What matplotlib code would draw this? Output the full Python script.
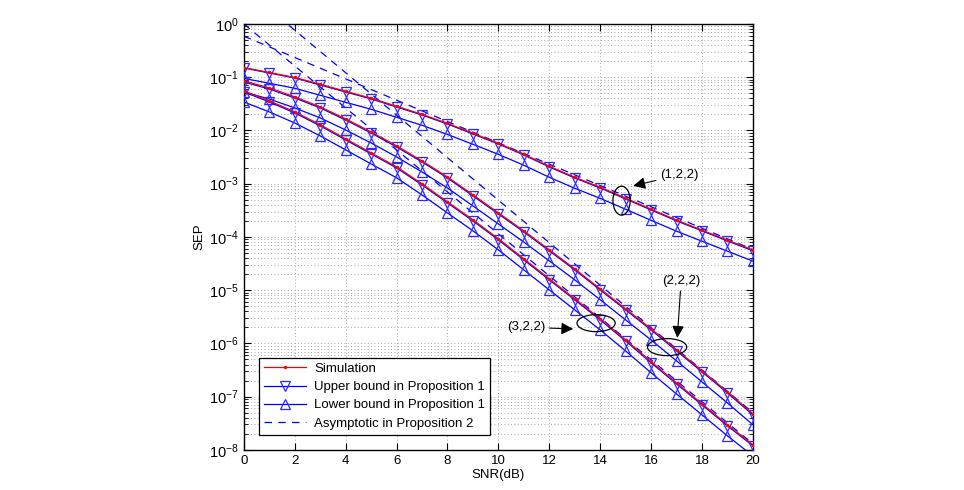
import numpy as np
import matplotlib
matplotlib.use("Agg")
import matplotlib.pyplot as plt
from matplotlib.patches import Ellipse
from matplotlib.ticker import FixedLocator, NullFormatter, LogFormatterSciNotation

plt.rcParams['font.family'] = ['Liberation Sans', 'DejaVu Sans']
plt.rcParams['mathtext.fontset'] = 'custom'
plt.rcParams['mathtext.rm'] = 'Liberation Sans'
plt.rcParams['mathtext.it'] = 'Liberation Sans:italic'

# SNR axis (dB)
snr = np.arange(0, 21)

# (1,2,2)
upper_122 = [0.149, 0.120, 0.0968, 0.0715, 0.0528, 0.0391, 0.0276, 0.0195, 0.0132, 8.6e-3, 5.57e-3,
             3.47e-3, 2.06e-3, 1.28e-3, 8.3e-4, 5.17e-4, 3.21e-4, 2.0e-4, 1.30e-4, 8.4e-5, 5.5e-5]
lower_122 = [0.095, 0.077, 0.062, 0.0458, 0.0338, 0.0250, 0.0177, 0.0125, 8.4e-3, 5.5e-3, 3.56e-3,
             2.22e-3, 1.32e-3, 8.2e-4, 5.3e-4, 3.31e-4, 2.05e-4, 1.28e-4, 8.3e-5, 5.4e-5, 3.5e-5]
sim_122 = [0.152, 0.123, 0.099, 0.074, 0.0545, 0.0404, 0.0285, 0.0201, 0.0136, 8.9e-3, 5.75e-3,
           3.58e-3, 2.13e-3, 1.32e-3, 8.6e-4, 5.35e-4, 3.32e-4, 2.07e-4, 1.34e-4, 8.7e-5, 5.7e-5]

# (2,2,2)
upper_222 = [0.0814, 0.0601, 0.0408, 0.0265, 0.0157, 8.97e-3, 4.90e-3, 2.56e-3, 1.28e-3, 5.89e-4, 2.70e-4,
             1.24e-4, 5.46e-5, 2.40e-5, 1.01e-5, 4.26e-6, 1.79e-6, 7.23e-7, 2.92e-7, 1.17e-7, 4.54e-8]
lower_222 = [0.0528, 0.0390, 0.0265, 0.0172, 0.0102, 5.82e-3, 3.18e-3, 1.66e-3, 8.3e-4, 3.82e-4, 1.75e-4,
             8.0e-5, 3.54e-5, 1.56e-5, 6.6e-6, 2.76e-6, 1.16e-6, 4.69e-7, 1.89e-7, 7.6e-8, 2.95e-8]
sim_222 = [0.0855, 0.0631, 0.0428, 0.0278, 0.0165, 9.4e-3, 5.15e-3, 2.69e-3, 1.34e-3, 6.2e-4, 2.84e-4,
           1.30e-4, 5.73e-5, 2.52e-5, 1.06e-5, 4.47e-6, 1.88e-6, 7.6e-7, 3.07e-7, 1.23e-7, 4.77e-8]

# (3,2,2)
upper_322 = [0.0528, 0.0343, 0.0213, 0.0122, 6.64e-3, 3.62e-3, 1.98e-3, 9.48e-4, 4.35e-4, 2.0e-4, 8.8e-5,
             3.70e-5, 1.56e-5, 6.56e-6, 2.76e-6, 1.11e-6, 4.31e-7, 1.73e-7, 7.0e-8, 2.82e-8, 1.19e-8]
lower_322 = [0.0343, 0.0223, 0.0138, 7.9e-3, 4.31e-3, 2.35e-3, 1.29e-3, 6.15e-4, 2.82e-4, 1.30e-4, 5.7e-5,
             2.40e-5, 1.01e-5, 4.26e-6, 1.79e-6, 7.2e-7, 2.80e-7, 1.12e-7, 4.54e-8, 1.83e-8, 7.7e-9]
sim_322 = [0.0554, 0.0360, 0.0224, 0.0128, 6.97e-3, 3.80e-3, 2.08e-3, 9.95e-4, 4.57e-4, 2.1e-4, 9.24e-5,
           3.89e-5, 1.64e-5, 6.89e-6, 2.90e-6, 1.17e-6, 4.53e-7, 1.82e-7, 7.35e-8, 2.96e-8, 1.25e-8]

# asymptotic lines (straight on this plot), end points at 0 dB and 20 dB
asym_snr = [0, 20]
asym_122 = [0.59, 5.8e-5]
asym_222 = [4.8, 5.0e-8]
asym_322 = [1.0, 1.3e-8]

legend_labels = ["Simulation", "Upper bound in Proposition 1",
                 "Lower bound in Proposition 1", "Asymptotic in Proposition 2"]

fig = plt.figure(figsize=(9.64, 4.90), dpi=100)
ax = fig.add_axes([0.253, 0.082, 0.528, 0.869])

groups = [(sim_122, upper_122, lower_122, asym_122),
          (sim_222, upper_222, lower_222, asym_222),
          (sim_322, upper_322, lower_322, asym_322)]

handles = None
for sim, up, lo, asym in groups:
    h_up, = ax.semilogy(snr, up, color='b', lw=0.9, marker='v', ms=7,
                        mfc='none', mec='#2a2aff', mew=0.9, zorder=3)
    h_lo, = ax.semilogy(snr, lo, color='b', lw=0.9, marker='^', ms=7,
                        mfc='none', mec='#2a2aff', mew=0.9, zorder=3)
    h_as, = ax.semilogy(asym_snr, asym, color='b', lw=0.9, ls=(0, (6, 5)), zorder=2)
    h_sim, = ax.semilogy(snr, sim, color='r', lw=0.9, marker='.', ms=3, zorder=4)
    if handles is None:
        handles = [h_sim, h_up, h_lo, h_as]

ax.set_xlim(0, 20)
ax.set_ylim(1e-8, 1)
ax.set_xticks(np.arange(0, 21, 2))
decades = 10.0 ** np.arange(-8, 1)
minors = [d * k for d in decades[:-1] for k in range(2, 10)]
ax.yaxis.set_major_locator(FixedLocator(decades))
ax.yaxis.set_major_formatter(LogFormatterSciNotation())
ax.yaxis.set_minor_locator(FixedLocator(minors))
ax.yaxis.set_minor_formatter(NullFormatter())

ax.tick_params(which='both', direction='in', top=True, right=True)
ax.tick_params(axis='x', labelsize=9.5)
ax.tick_params(axis='y', labelsize=10.5)
ax.tick_params(which='major', length=5, width=0.8)
ax.tick_params(which='minor', length=3, width=0.6)

grid_kw = dict(color='#8a8a8a', lw=0.6, ls=(0, (1, 3)))
ax.grid(True, which='major', axis='both', **grid_kw)
ax.grid(True, which='minor', axis='y', **grid_kw)
ax.set_axisbelow(True)
for s in ax.spines.values():
    s.set_linewidth(1.0)

ax.set_xlabel("SNR(dB)", fontsize=9.5, labelpad=2)
ax.set_ylabel("SEP", fontsize=9.5, labelpad=3)

leg = ax.legend(handles, legend_labels, loc='lower left', bbox_to_anchor=(0.029, 0.035),
                borderaxespad=0, fontsize=9.5, fancybox=False, framealpha=1,
                edgecolor='black', handlelength=3.2, handletextpad=0.6,
                borderpad=0.4, labelspacing=0.45)
leg.get_frame().set_linewidth(0.9)


def to_axes(x, y):
    return ax.transAxes.inverted().transform(ax.transData.transform((x, y)))


# ellipses around the curves (sized in axes fractions)
for (cx, cy, w, h) in [(14.84, 4.8e-4, 0.034, 0.068),
                       (16.63, 8.5e-7, 0.077, 0.040),
                       (13.84, 2.4e-6, 0.075, 0.040)]:
    ax.add_patch(Ellipse(to_axes(cx, cy), w, h, transform=ax.transAxes,
                         fill=False, ec='black', lw=0.9, zorder=5))

arrow_kw = dict(arrowstyle='-|>', color='black', lw=0.8, mutation_scale=18,
                shrinkA=1, shrinkB=0)
ax.annotate("(1,2,2)", xy=(15.30, 9.1e-4), xytext=(16.35, 1.46e-3), ha='left', va='center',
            fontsize=9.5, arrowprops=arrow_kw, zorder=6)
ax.annotate("(2,2,2)", xy=(17.03, 1.27e-6), xytext=(17.18, 1.5e-5), ha='center', va='center',
            fontsize=9.5, arrowprops=arrow_kw, zorder=6)
ax.annotate("(3,2,2)", xy=(12.94, 1.87e-6), xytext=(11.85, 2.0e-6), ha='right', va='center',
            fontsize=9.5, arrowprops=arrow_kw, zorder=6)

fig.savefig("out.png", dpi=100)
